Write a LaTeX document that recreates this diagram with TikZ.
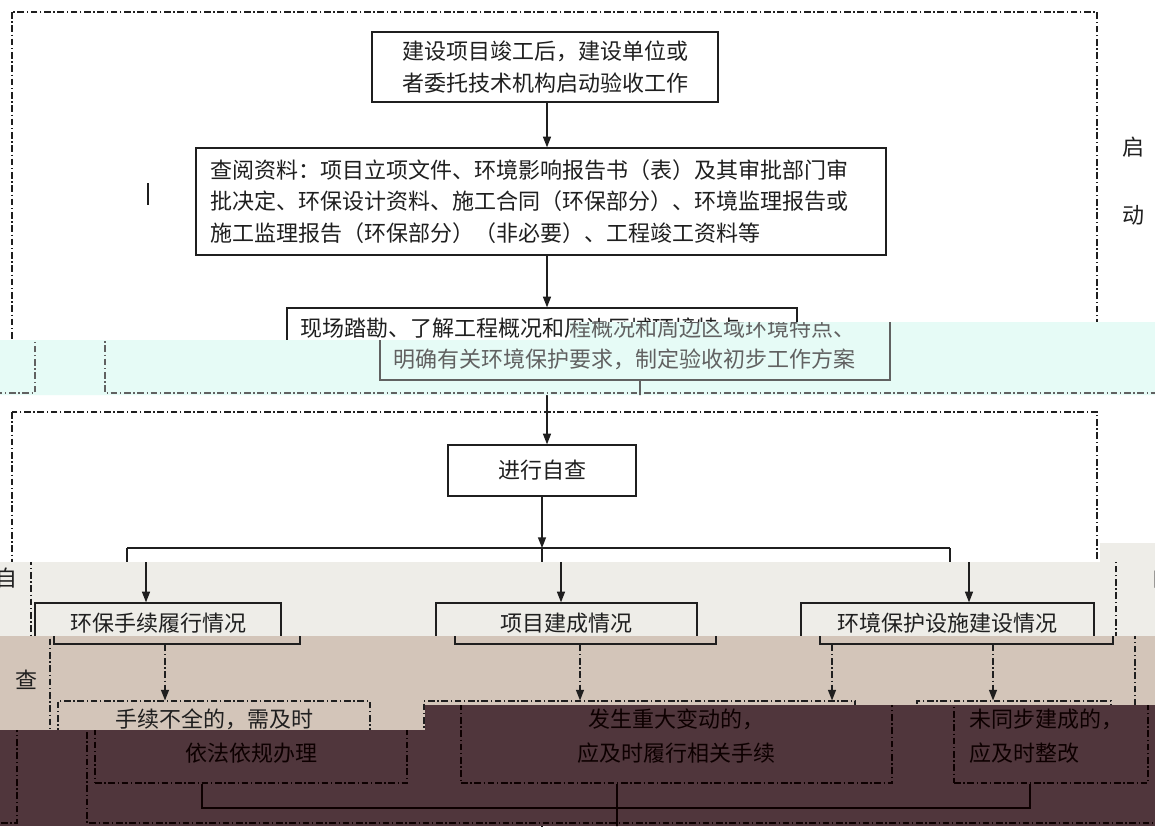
\documentclass[tikz,border=0pt]{standalone}
\usepackage{fontspec}
\setmainfont{Noto Sans CJK SC}
\usetikzlibrary{arrows.meta}

\colorlet{ink}{black!88}
\definecolor{bandcyan}{HTML}{E6FBF6}
\definecolor{bandgray}{HTML}{EEEDE8}
\definecolor{bandtan}{HTML}{D3C5B9}
\definecolor{bandmaroon}{HTML}{50363C}

\tikzset{
  dashdot/.style={dash pattern=on 5pt off 2pt on 1pt off 2pt},
  box/.style={draw=ink, text=ink, line width=1pt, inner sep=0pt, font=\fontsize{16.5}{23.5}\selectfont},
  dbox/.style={draw=ink, dashdot, line width=.8pt, inner sep=0pt},
  dnote/.style={text=ink, inner sep=0pt, font=\fontsize{16.5}{25.5}\selectfont},
  frame/.style={draw=ink, dashdot, line width=.8pt},
  link/.style={draw=ink, line width=1pt, -{Triangle[length=8pt,width=6pt]}},
  dlink/.style={link, dashdot},
  wire/.style={draw=ink, line width=1pt},
  side/.style={text=ink, font=\fontsize{16.5}{20}\selectfont},
}

\newcommand{\flowchart}{
  \draw[frame] (12,12) rectangle (1097,393);
  \draw[frame] (12,412) rectangle (1097,823);
  \draw[ink, line width=2pt] (148,183) -- (148,205);

  \node[box, minimum width=259.5pt, minimum height=52.5pt, align=left] (start) at (545,67)
    {建设项目竣工后，建设单位或\\者委托技术机构启动验收工作};
  \node[box, minimum width=517.5pt, minimum height=80.25pt, text width=496.5pt, align=left] (docs) at (541,201.5)
    {查阅资料：项目立项文件、环境影响报告书（表）及其审批部门审\\批决定、环保设计资料、施工合同（环保部分）、环境监理报告或\\施工监理报告（环保部分）（非必要）、工程竣工资料等};
  \node[box, minimum width=382.5pt, minimum height=54pt, text width=363pt, align=left] (site) at (542,344)
    {现场踏勘、了解工程概况和周边区域环境特点、\\明确有关环境保护要求，制定验收初步工作方案};
  \node[box, minimum width=141pt, minimum height=38.25pt] (check) at (542,470.5) {进行自查};

  \node[box, minimum width=184.5pt, minimum height=30.75pt] (proc) at (139,623.5) {环保手续履行情况};
  \node[box, minimum width=195.75pt, minimum height=30.75pt] (built) at (547.5,623.5) {项目建成情况};
  \node[box, minimum width=219.75pt, minimum height=30.75pt] (facil) at (928.5,623.5) {环境保护设施建设情况};

  \node[dbox, minimum width=234pt, minimum height=61.5pt] (fixproc) at (176,742) {};
  \node[dbox, minimum width=323.25pt, minimum height=61.5pt] (change) at (601.5,742) {};
  \node[dbox, minimum width=145.5pt, minimum height=61.5pt] (rectify) at (976,742) {};
  \node[dnote, align=center] (fixprocT) at ([yshift=4.5pt]fixproc.center) {手续不全的，需及时\\依法依规办理};
  \node[dnote, align=center] (changeT) at ([yshift=4.5pt]change.center) {发生重大变动的，\\应及时履行相关手续};
  \node[dnote, text width=122pt, align=left] (rectifyT) at ([yshift=4.5pt]rectify.center) {未同步建成的，\\应及时整改};

  \node[side] (qi) at (1133,147) {启};
  \node[side] (dong) at (1133,215) {动};
  \node[side] (zi) at (1143,578) {自};
  \node[side] (cha) at (1143,680) {查};

  \coordinate (spine) at (547,0);
  \coordinate (fork) at (542,548);
  \coordinate (forkL) at (127,548);
  \coordinate (forkR) at (950,548);
  \coordinate (colL) at (127,0);
  \coordinate (colM) at (542,0);
  \coordinate (colK) at (794,0);
  \coordinate (colR) at (955,0);
  \coordinate (join) at (542,808);
  \coordinate (onward) at (542,860);

  \draw[link] (start.south -| spine) -- (docs.north -| spine);
  \draw[link] (docs.south -| spine) -- (site.north -| spine);
  \draw[link] (site.south -| spine) -- (check.north -| spine);
  \draw[link] (check.south -| fork) -- (fork);
  \draw[wire] (forkL) -- (forkR);
  \draw[link] (forkL) -- (forkL |- proc.north);
  \draw[link] (fork) -- (fork |- built.north);
  \draw[link] (forkR) -- (forkR |- facil.north);

  \draw[dlink] (proc.south -| colL) -- (fixproc.north -| colL);
  \draw[dlink] (built.south -| colM) -- (change.north -| colM);
  \draw[dlink] (facil.south -| colK) -- (change.north -| colK);
  \draw[dlink] (facil.south -| colR) -- (rectify.north -| colR);

  \draw[wire] (fixproc.south -| colL) |- (join) -| (rectify.south -| colR);
  \draw[wire] (change.south -| colM) -- (onward);
}

\begin{document}
\begin{tikzpicture}[x=0.75pt, y=-0.75pt]
  \useasboundingbox (0,0) rectangle (1155,826);
  \fill[white] (0,0) rectangle (1155,826);
  \flowchart

  \begin{scope}
    \clip (0,340) -- (570,340) -- (570,322) -- (1155,322) -- (1155,395) -- (0,395) -- cycle;
    \fill[bandcyan] (0,300) rectangle (1155,400);
    \colorlet{ink}{black!62}
    \foreach \dx in {93,-1062} {
      \begin{scope}[shift={(\dx,0)}]\flowchart\end{scope}
    }
  \end{scope}

  \begin{scope}
    \clip (1100,543) rectangle (1155,562);
    \fill[bandgray] (1100,543) rectangle (1155,562);
  \end{scope}

  \begin{scope}
    \clip (0,562) rectangle (1155,636);
    \fill[bandgray] (0,562) rectangle (1155,636);
    \foreach \dx in {19,-1136} {
      \begin{scope}[shift={(\dx,0)}]\flowchart\end{scope}
    }
  \end{scope}

  \begin{scope}
    \clip (0,636) rectangle (1155,730);
    \fill[bandtan] (0,636) rectangle (1155,730);
    \foreach \dx in {38,-1117} {
      \begin{scope}[shift={(\dx,0)}]\flowchart\end{scope}
    }
  \end{scope}

  \begin{scope}
    \clip (0,730) -- (425,730) -- (425,705) -- (1155,705) -- (1155,826) -- (0,826) -- cycle;
    \fill[bandmaroon] (0,700) rectangle (1155,826);
    \colorlet{ink}{black!95!red}
    \foreach \dx in {75,-1080} {
      \begin{scope}[shift={(\dx,0)}]\flowchart\end{scope}
    }
  \end{scope}
\end{tikzpicture}
\end{document}
